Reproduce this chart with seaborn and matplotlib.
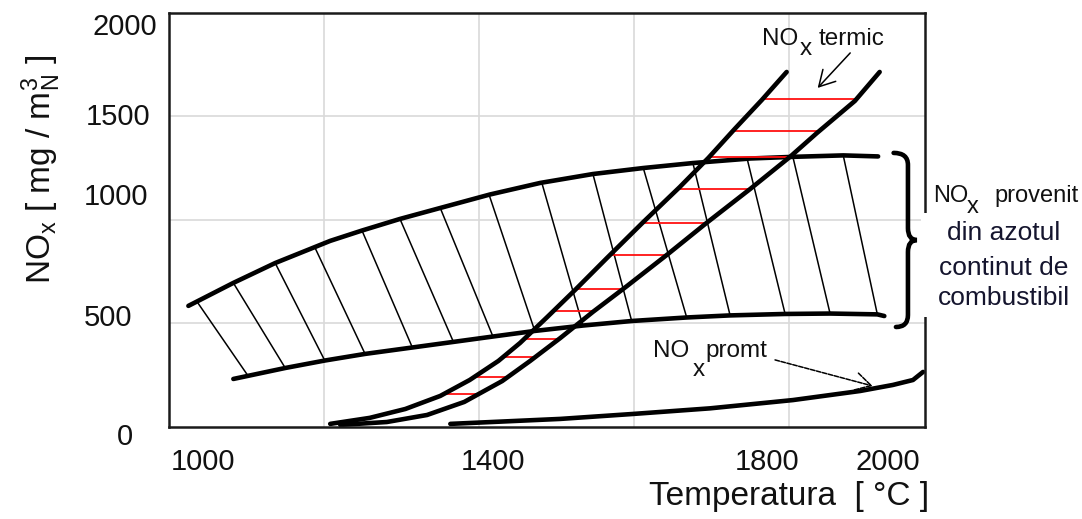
import numpy as np
import pandas as pd
import matplotlib
matplotlib.use("Agg")
import matplotlib.pyplot as plt
import seaborn as sns
from matplotlib.path import Path
from matplotlib.patches import PathPatch, Rectangle

# ---------------- data ----------------
fuel_upper_T = [1025, 1083, 1137, 1208, 1249, 1298, 1350, 1414, 1479, 1547, 1612, 1676, 1750, 1805, 1870, 1915]
fuel_upper_NOx = [585, 696, 792, 899, 949, 1005, 1058, 1123, 1179, 1222, 1251, 1275, 1297, 1305, 1312, 1307]

fuel_lower_T = [1083, 1150, 1201, 1253, 1314, 1367, 1418, 1472, 1534, 1597, 1668, 1724, 1795, 1853, 1914, 1923]
fuel_lower_NOx = [232, 285, 321, 353, 384, 411, 437, 464, 490, 512, 529, 539, 546, 548, 544, 536]

hatch_top_T = [1036, 1083, 1137, 1188, 1249, 1298, 1350, 1413, 1481, 1547, 1612, 1676, 1746, 1805, 1870]
hatch_bottom_T = [1102, 1150, 1201, 1253, 1314, 1367, 1418, 1472, 1534, 1597, 1668, 1724, 1795, 1853, 1914]

thermal_left_T = [1208, 1259, 1305, 1350, 1388, 1425, 1453, 1488, 1524, 1565, 1612, 1659, 1696, 1730, 1765, 1797]
thermal_left_NOx = [15, 44, 87, 150, 227, 319, 406, 531, 662, 816, 990, 1159, 1300, 1440, 1580, 1715]

thermal_right_T = [1221, 1281, 1333, 1381, 1430, 1466, 1505, 1547, 1591, 1644, 1692, 1750, 1801, 1836, 1885, 1917]
thermal_right_NOx = [10, 24, 58, 121, 222, 319, 430, 556, 681, 836, 981, 1150, 1304, 1420, 1575, 1715]

red_levels = [1585, 1430, 1304, 1150, 986, 831, 667, 560, 425, 338, 242, 159]

prompt_T = [1363, 1505, 1599, 1698, 1805, 1892, 1934, 1960, 1973]
prompt_NOx = [15, 39, 63, 90, 130, 174, 203, 227, 266]

xtick_labels = ["1000", "1400", "1800", "2000"]
xtick_T = [1044, 1418, 1772, 1928]
ytick_labels = ["2000", "1500", "1000", "500", "0"]
ytick_NOx = [1932, 1498, 1111, 527, -48]

grid_T = [1200, 1400, 1600, 1800]
grid_NOx = [500, 1000, 1500]

# ---------------- style ----------------
sns.set_theme(style="white")
plt.rcParams["font.family"] = ["Liberation Sans", "DejaVu Sans"]
plt.rcParams["mathtext.fontset"] = "custom"
plt.rcParams["mathtext.rm"] = "Liberation Sans"
plt.rcParams["mathtext.it"] = "Liberation Sans:italic"
plt.rcParams["mathtext.bf"] = "Liberation Sans:bold"

fig = plt.figure(figsize=(10.82, 5.19), dpi=100)
fig.patch.set_facecolor("white")
ax = fig.add_axes([0.1562, 0.1773, 0.6987, 0.7977])
ax.set_facecolor("white")
ax.set_xlim(1000, 1975.5)
ax.set_ylim(0, 2000)

# grid via minor ticks
ax.set_xticks(grid_T, minor=True)
ax.set_yticks(grid_NOx, minor=True)
ax.grid(which="minor", color="#d9d9d9", lw=1.2)
ax.grid(which="major", visible=False)
ax.set_axisbelow(True)

ax.set_xticks(xtick_T, xtick_labels)
ax.set_yticks([])
ax.tick_params(axis="both", which="both", length=0)
ax.tick_params(axis="x", pad=15, labelsize=21, labelcolor="#111111")

ytrans = ax.get_yaxis_transform()
ytick_right = [-0.016, -0.025, -0.028, -0.048, -0.048]
for lab, yv, xr in zip(ytick_labels, ytick_NOx, ytick_right):
    ax.text(xr, yv, lab, transform=ytrans, ha="right", va="center",
            fontsize=21, color="#111111", clip_on=False)

for s in ax.spines.values():
    s.set_color("#1a1a1a")
    s.set_linewidth(1.8)

thick = dict(color="black", lw=3.3, estimator=None, sort=False, ax=ax,
             solid_capstyle="round", solid_joinstyle="round")

# fuel NOx band
sns.lineplot(x=fuel_upper_T, y=fuel_upper_NOx, **thick)
sns.lineplot(x=fuel_lower_T, y=fuel_lower_NOx, **thick)

hatch_top_y = np.interp(hatch_top_T, fuel_upper_T, fuel_upper_NOx)
hatch_bot_y = np.interp(hatch_bottom_T, fuel_lower_T, fuel_lower_NOx)
hatch_df = pd.DataFrame({
    "T": np.concatenate([hatch_top_T, hatch_bottom_T]),
    "NOx": np.concatenate([hatch_top_y, hatch_bot_y]),
    "seg": np.concatenate([np.arange(len(hatch_top_T))] * 2),
})
sns.lineplot(data=hatch_df, x="T", y="NOx", units="seg", estimator=None,
             color="black", lw=1.1, ax=ax, sort=False)

# thermal NOx
red_left = np.interp(red_levels, thermal_left_NOx, thermal_left_T)
red_right = np.interp(red_levels, thermal_right_NOx, thermal_right_T)
red_df = pd.DataFrame({
    "T": np.concatenate([red_left, red_right]),
    "NOx": np.concatenate([red_levels, red_levels]),
    "seg": np.concatenate([np.arange(len(red_levels))] * 2),
})
sns.lineplot(data=red_df, x="T", y="NOx", units="seg", estimator=None,
             color="#ff1010", lw=1.3, ax=ax, sort=False)
sns.lineplot(x=thermal_left_T, y=thermal_left_NOx, **thick)
sns.lineplot(x=thermal_right_T, y=thermal_right_NOx, **thick)

# prompt NOx
sns.lineplot(x=prompt_T, y=prompt_NOx, **thick)

# brace
bx0, bx1, bx2 = 1935, 1953.5, 1965
verts = [(bx0, 1324), (bx1, 1324), (bx1, 1266), (bx1, 961),
         (bx1, 903), (bx2, 903), (bx1, 903), (bx1, 845),
         (bx1, 541), (bx1, 483), (bx0 + 3, 483)]
codes = [Path.MOVETO, Path.CURVE3, Path.CURVE3, Path.LINETO,
         Path.CURVE3, Path.CURVE3, Path.CURVE3, Path.CURVE3,
         Path.LINETO, Path.CURVE3, Path.CURVE3]
ax.add_patch(PathPatch(Path(verts, codes), fill=False, lw=3.3,
                       edgecolor="black", capstyle="round", clip_on=False))

# white box hiding part of right frame behind the side text
ax.add_patch(Rectangle((1970, 531), 140, 503, facecolor="white",
                       edgecolor="none", zorder=3, clip_on=False))


def nox_label(x, y, rest, size, x_gap, drop, rest_gap, color="#111111"):
    t1 = ax.text(x, y, "NO", fontsize=size, color=color, ha="left",
                 va="baseline", zorder=5)
    t2 = ax.annotate("x", xy=(1, 0), xycoords=t1, xytext=(x_gap, -drop),
                     textcoords="offset points", fontsize=size, color=color,
                     ha="left", va="bottom", zorder=5)
    ax.annotate(rest, xy=(1, 0), xycoords=(t2, t1), xytext=(rest_gap, 0),
                textcoords="offset points", fontsize=size, color=color,
                ha="left", va="bottom", zorder=5)


# annotations
nox_label(1765, 1845, "termic", 17.5, 1.5, 7.0, 4.5)
ax.annotate("", xy=(1837, 1638), xytext=(1879, 1807),
            arrowprops=dict(arrowstyle="->,head_length=0.8,head_width=0.45",
                            lw=1.1, color="black", shrinkA=0, shrinkB=0,
                            mutation_scale=14))

nox_label(1624, 338, "promt", 17.5, 2.5, 14.0, 0.5)
ax.annotate("", xy=(1908, 198), xytext=(1782, 324),
            arrowprops=dict(arrowstyle="->,head_length=0.8,head_width=0.45",
                            lw=1.1, color="black", shrinkA=0, shrinkB=0,
                            linestyle=(0, (3, 1)), mutation_scale=14))

nox_label(1986, 1087, "provenit", 17, -1.0, 8.0, 11.0)
for txt, yb in zip(["din azotul", "continut de", "combustibil"], [903, 734, 589]):
    ax.text(2077, yb, txt, fontsize=19, color="#15152e", ha="center",
            va="baseline", zorder=5)

# axis labels
ax.set_xlabel("Temperatura  [ °C ]", fontsize=24, color="#111111")
ax.xaxis.set_label_coords(0.820, -0.169)
ax.xaxis.label.set_va("center")
ax.set_ylabel("")
ax.text(-0.169, 0.621, r"NO$_\mathrm{x}$ [ mg / m$^\mathrm{3}_\mathrm{N}$ ]",
        transform=ax.transAxes, rotation=90, ha="center", va="center",
        rotation_mode="anchor", fontsize=24, color="#111111", clip_on=False)

fig.savefig("out.png", dpi=100, facecolor="white")
